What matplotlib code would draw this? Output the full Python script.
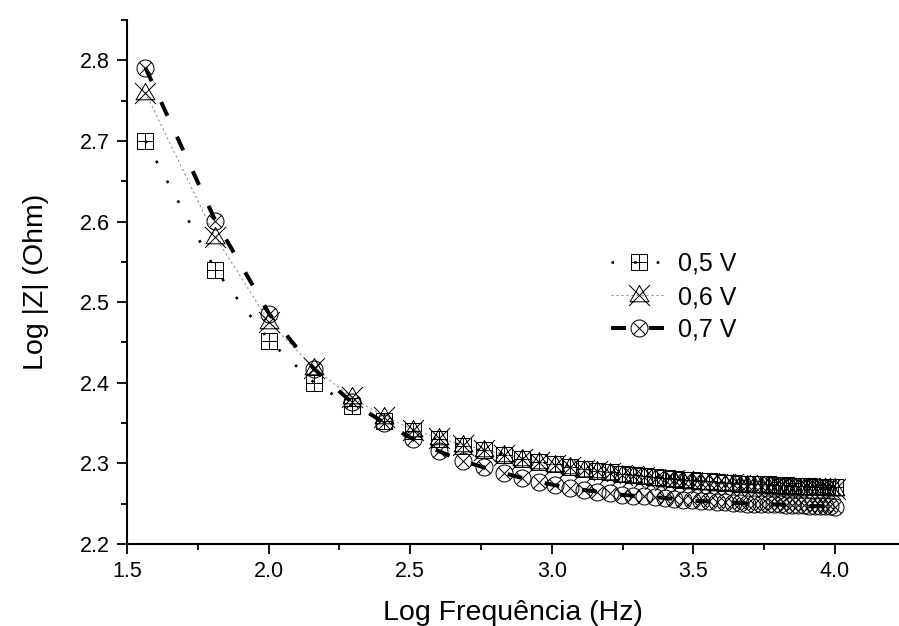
import matplotlib
matplotlib.use("Agg")
import matplotlib.pyplot as plt
from matplotlib.path import Path
import numpy as np

plt.rcParams['font.family'] = ['Liberation Sans', 'DejaVu Sans']
plt.rcParams['lines.scale_dashes'] = False

log_freq = [1.565, 1.812, 2.003, 2.161, 2.293, 2.409, 2.511, 2.602, 2.685, 2.760,
            2.830, 2.894, 2.954, 3.010, 3.063, 3.113, 3.160, 3.204, 3.247, 3.287,
            3.326, 3.363, 3.398, 3.432, 3.465, 3.496, 3.527, 3.556, 3.585, 3.612,
            3.639, 3.665, 3.690, 3.715, 3.739, 3.762, 3.784, 3.806, 3.828, 3.849,
            3.869, 3.889, 3.909, 3.928, 3.946, 3.965, 3.983, 4.000]

z_05 = [2.700, 2.540, 2.452, 2.400, 2.371, 2.353, 2.340, 2.330, 2.322, 2.316,
        2.311, 2.306, 2.302, 2.299, 2.296, 2.293, 2.291, 2.289, 2.287, 2.286,
        2.284, 2.283, 2.282, 2.281, 2.280, 2.279, 2.278, 2.278, 2.277, 2.276,
        2.276, 2.275, 2.275, 2.274, 2.274, 2.274, 2.273, 2.273, 2.273, 2.272,
        2.272, 2.272, 2.272, 2.271, 2.271, 2.271, 2.271, 2.271]

z_06 = [2.760, 2.581, 2.475, 2.418, 2.382, 2.358, 2.342, 2.331, 2.323, 2.317,
        2.311, 2.306, 2.302, 2.298, 2.295, 2.292, 2.290, 2.288, 2.286, 2.284,
        2.283, 2.281, 2.280, 2.279, 2.278, 2.277, 2.276, 2.276, 2.275, 2.274,
        2.274, 2.273, 2.273, 2.272, 2.272, 2.271, 2.271, 2.271, 2.270, 2.270,
        2.270, 2.270, 2.269, 2.269, 2.269, 2.269, 2.268, 2.268]

z_07 = [2.791, 2.601, 2.485, 2.417, 2.376, 2.350, 2.330, 2.315, 2.303, 2.295,
        2.288, 2.282, 2.277, 2.273, 2.270, 2.267, 2.265, 2.263, 2.261, 2.260,
        2.259, 2.258, 2.257, 2.256, 2.255, 2.254, 2.253, 2.253, 2.252, 2.252,
        2.251, 2.251, 2.250, 2.250, 2.250, 2.249, 2.249, 2.249, 2.248, 2.248,
        2.248, 2.248, 2.247, 2.247, 2.247, 2.247, 2.247, 2.246]

labels = ['0,5 V', '0,6 V', '0,7 V']
x_ticks = [1.5, 2.0, 2.5, 3.0, 3.5, 4.0]
y_ticks = [2.2, 2.3, 2.4, 2.5, 2.6, 2.7, 2.8]

M, L = Path.MOVETO, Path.LINETO
# square with plus
sq_verts = [(-1, -1), (1, -1), (1, 1), (-1, 1), (-1, -1),
            (-1, 0), (1, 0), (0, -1), (0, 1)]
sq_codes = [M, L, L, L, L, M, L, M, L]
square_plus = Path(sq_verts, sq_codes)
# triangle with X
tr_verts = [(0, 0.95), (-0.9, -0.6), (0.9, -0.6), (0, 0.95),
            (-1, 1), (1, -1), (1, 1), (-1, -1)]
tr_codes = [M, L, L, L, M, L, M, L]
tri_x = Path(tr_verts, tr_codes)
# circle with X
circ = Path.unit_circle()
d = 0.7071
cx_verts = list(circ.vertices) + [(-d, -d), (d, d), (-d, d), (d, -d)]
cx_codes = list(circ.codes) + [M, L, M, L]
circle_x = Path(cx_verts, cx_codes)

fig = plt.figure(figsize=(8.99, 6.26), dpi=100)
ax = fig.add_axes([127/899, 82/626, 772/899, 524/626])

px = 0.72
ax.plot(log_freq, z_05, color='black', lw=2.6*px, linestyle=(0, (2.6*px, 20*px)),
        marker=square_plus, markersize=16*px, markerfacecolor='none',
        markeredgecolor='black', markeredgewidth=1.0*px, label=labels[0])
ax.plot(log_freq, z_06, color='#8a8a8a', lw=1.1*px, linestyle=(0, (2*px, 3*px)),
        marker=tri_x, markersize=21*px, markerfacecolor='none',
        markeredgecolor='black', markeredgewidth=1.0*px, label=labels[1])
ax.plot(log_freq, z_07, color='black', lw=4*px, linestyle=(0, (15*px, 23*px)),
        marker=circle_x, markersize=17*px, markerfacecolor='none',
        markeredgecolor='black', markeredgewidth=1.0*px, label=labels[2])

ax.set_xlim(1.5, 4.226)
ax.set_ylim(2.2, 2.85)
ax.set_xticks(x_ticks)
ax.set_xticklabels([f"{v:.1f}" for v in x_ticks])
ax.set_yticks(y_ticks)
ax.set_yticklabels([f"{v:.1f}" for v in y_ticks])
ax.set_xticks([1.75, 2.25, 2.75, 3.25, 3.75], minor=True)
ax.set_yticks([2.25, 2.35, 2.45, 2.55, 2.65, 2.75, 2.85], minor=True)

for s in ['top', 'right']:
    ax.spines[s].set_visible(False)
for s in ['left', 'bottom']:
    ax.spines[s].set_linewidth(1.5)
ax.tick_params(which='major', direction='out', length=7.2, width=1.3,
               labelsize=15.5, pad=5)
ax.tick_params(which='minor', direction='out', length=4.3, width=1.3)

ax.set_xlabel('Log Frequência (Hz)', fontsize=20.5, labelpad=13)
ax.set_ylabel('Log |Z| (Ohm)', fontsize=20.5, labelpad=22)

leg = ax.legend(loc='upper left', bbox_to_anchor=(611/899, 1 - 252/626),
                bbox_transform=fig.transFigure, frameon=False, fontsize=18,
                handlelength=2.2, handletextpad=0.5, labelspacing=0.36,
                borderpad=0, borderaxespad=0)

fig.savefig('out.png', dpi=100)
